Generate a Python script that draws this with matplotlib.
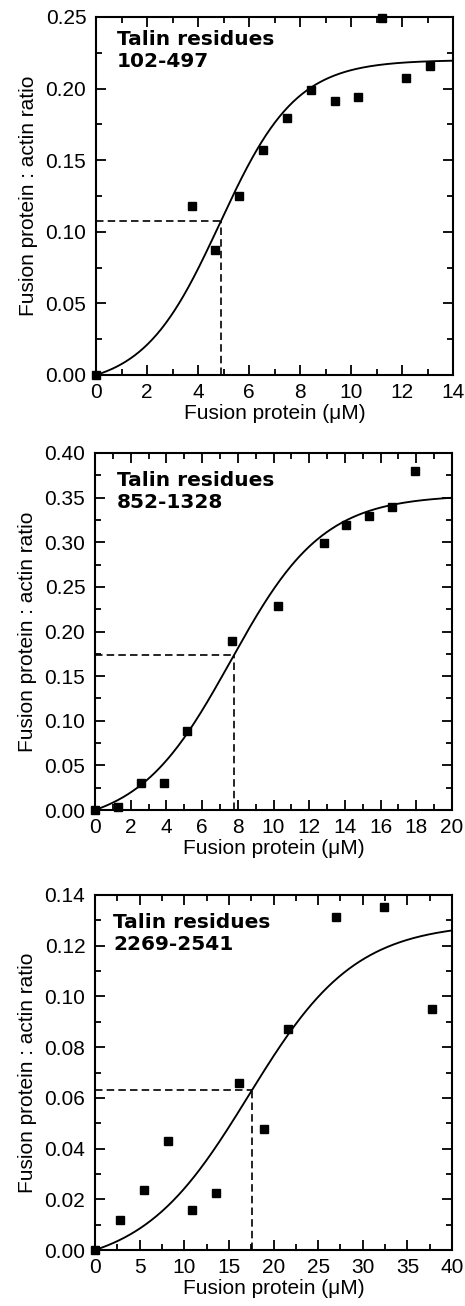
import matplotlib
matplotlib.use("Agg")
import matplotlib.pyplot as plt
from matplotlib.ticker import MultipleLocator, FormatStrFormatter
import numpy as np

plt.rcParams['font.family'] = ['Liberation Sans', 'DejaVu Sans']

# Données
labels = ["Talin residues\n102-497", "Talin residues\n852-1328", "Talin residues\n2269-2541"]

x1 = [0, 3.76, 4.68, 5.59, 6.55, 7.49, 8.44, 9.36, 10.27, 11.22, 12.14, 13.08]
y1 = [0, 0.118, 0.087, 0.125, 0.157, 0.1796, 0.199, 0.1915, 0.194, 0.249, 0.2077, 0.2157]

x2 = [0, 1.27, 2.58, 3.85, 5.15, 7.66, 10.23, 12.81, 14.06, 15.33, 16.62, 17.91]
y2 = [0, 0.003, 0.030, 0.030, 0.089, 0.189, 0.229, 0.299, 0.319, 0.329, 0.339, 0.380]

x3 = [0, 2.76, 5.45, 8.14, 10.83, 13.52, 16.17, 18.9, 21.58, 26.96, 32.34, 37.71]
y3 = [0, 0.0117, 0.0235, 0.0429, 0.0156, 0.0226, 0.0657, 0.0476, 0.087, 0.1312, 0.1351, 0.0949]

# paramètres de l'ajustement sigmoïde (plateau, centre, pente)
fits = [(0.220, 4.85, 1.5), (0.353, 7.6, 2.6), (0.129, 17.2, 6.0)]
half_x = [4.9, 7.8, 17.6]

xmax = [14, 20, 40]
ymax = [0.25, 0.40, 0.14]
xmajor = [2, 2, 5]
xminor = [1, 1, 2.5]
ymajor = [0.05, 0.05, 0.02]
yminor = [0.025, 0.025, 0.01]

positions = [
    [96/465, 1 - 375/1306, 357/465, 358/1306],
    [95/465, 1 - 810/1306, 357/465, 357/1306],
    [95/465, 1 - 1250/1306, 357/465, 355/1306],
]
# décalage du texte (px depuis le coin haut gauche)
text_off = [(21, 13), (22, 18), (18, 18)]


def sigmoid(x, b, x0, s):
    l = 1 / (1 + np.exp(-(x - x0) / s))
    l0 = 1 / (1 + np.exp(x0 / s))
    return b * (l - l0) / (1 - l0)


fig = plt.figure(figsize=(4.65, 13.06), dpi=100)

data = [(x1, y1), (x2, y2), (x3, y3)]
for i in range(3):
    ax = fig.add_axes(positions[i])
    xs, ys = data[i]
    b, x0, s = fits[i]

    xx = np.linspace(0, xmax[i], 400)
    ax.plot(xx, sigmoid(xx, b, x0, s), color='black', lw=1.35)

    hy = sigmoid(half_x[i], b, x0, s)
    ax.plot([0, half_x[i]], [hy, hy], color='black', lw=1.2, ls=(0, (4.5, 2.5)))
    ax.plot([half_x[i], half_x[i]], [0, hy], color='black', lw=1.2, ls=(0, (4.5, 2.5)))

    ax.plot(xs, ys, 's', color='black', ms=6.2, clip_on=False, zorder=5)

    ax.set_xlim(0, xmax[i])
    ax.set_ylim(0, ymax[i])
    ax.xaxis.set_major_locator(MultipleLocator(xmajor[i]))
    ax.xaxis.set_minor_locator(MultipleLocator(xminor[i]))
    ax.yaxis.set_major_locator(MultipleLocator(ymajor[i]))
    ax.yaxis.set_minor_locator(MultipleLocator(yminor[i]))
    ax.yaxis.set_major_formatter(FormatStrFormatter('%.2f'))
    ax.tick_params(which='both', direction='in', top=True, right=True, labelsize=15)
    ax.tick_params(axis='x', pad=5.5)
    ax.tick_params(axis='y', pad=7)
    ax.tick_params(which='major', length=7, width=1.3)
    ax.tick_params(which='minor', length=4, width=1.3)
    for sp in ax.spines.values():
        sp.set_linewidth(1.5)

    ax.set_xlabel('Fusion protein (\u03bcM)', fontsize=15, labelpad=1.5)
    ax.set_ylabel('Fusion protein : actin ratio', fontsize=15, labelpad=5)
    w = positions[i][2] * 465
    h = positions[i][3] * 1306
    ax.text(text_off[i][0] / w, 1 - text_off[i][1] / h, labels[i], transform=ax.transAxes,
            fontsize=14.5, fontweight='bold', family='DejaVu Sans',
            va='top', ha='left', linespacing=1.2)

fig.savefig('out.png', dpi=100)
